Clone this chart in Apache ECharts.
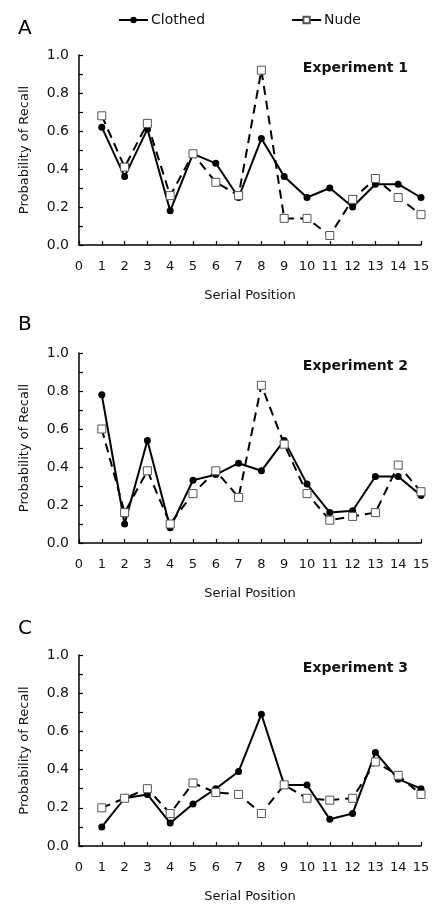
<!DOCTYPE html>
<html>
<head>
<meta charset="utf-8">
<script src="https://cdn.jsdelivr.net/npm/echarts@6/dist/echarts.min.js"></script>
<style>
	html, body { margin: 0; padding: 0; background: #fff; }
	#chart { width: 434px; height: 904px; }
</style>
</head>
<body>
<div id="chart"></div>
<script>
// serial positions (x values)
var positions = [1, 2, 3, 4, 5, 6, 7, 8, 9, 10, 11, 12, 13, 14, 15];

// Experiment 1
var clothedA = [0.62, 0.36, 0.61, 0.18, 0.48, 0.43, 0.25, 0.56, 0.36, 0.25, 0.30, 0.20, 0.32, 0.32, 0.25];
var nudeA    = [0.68, 0.41, 0.64, 0.26, 0.48, 0.33, 0.26, 0.92, 0.14, 0.14, 0.05, 0.24, 0.35, 0.25, 0.16];
// Experiment 2
var clothedB = [0.78, 0.10, 0.54, 0.08, 0.33, 0.36, 0.42, 0.38, 0.54, 0.31, 0.16, 0.17, 0.35, 0.35, 0.25];
var nudeB    = [0.60, 0.16, 0.38, 0.10, 0.26, 0.38, 0.24, 0.83, 0.52, 0.26, 0.12, 0.14, 0.16, 0.41, 0.27];
// Experiment 3
var clothedC = [0.10, 0.25, 0.27, 0.12, 0.22, 0.30, 0.39, 0.69, 0.32, 0.32, 0.14, 0.17, 0.49, 0.35, 0.30];
var nudeC    = [0.20, 0.25, 0.30, 0.17, 0.33, 0.28, 0.27, 0.17, 0.32, 0.25, 0.24, 0.25, 0.44, 0.37, 0.27];

var panelLetters = ["A", "B", "C"];
var panelTitles = ["Experiment 1", "Experiment 2", "Experiment 3"];
var clothedSets = [clothedA, clothedB, clothedC];
var nudeSets = [nudeA, nudeB, nudeC];

var font = "DejaVu Sans";
var grids = [
	{left: 79, right: 13, top: 55, height: 190},
	{left: 79, right: 13, top: 353, height: 190},
	{left: 79, right: 13, top: 655, height: 192}
];
var letterTops = [14, 310, 614];

function pairs(values){
	return positions.map(function(p, i){ return [p, values[i]]; });
}

var xAxes = [], yAxes = [], series = [], titles = [];
grids.forEach(function(g, i){
	xAxes.push({
		gridIndex: i, type: "value", min: 0, max: 15, interval: 1,
		name: "Serial Position", nameLocation: "middle", nameGap: 44,
		nameTextStyle: {fontFamily: font, fontSize: 13, color: "#111"},
		axisLine: {lineStyle: {color: "#000", width: 1.5}},
		axisTick: {inside: true, length: 4, lineStyle: {color: "#000", width: 1.2}},
		axisLabel: {fontFamily: font, fontSize: 13, color: "#111", margin: 15},
		splitLine: {show: false}
	});
	yAxes.push({
		gridIndex: i, type: "value", min: 0, max: 1, interval: 0.2,
		name: "Probability of Recall", nameLocation: "middle", nameGap: 48,
		nameTextStyle: {fontFamily: font, fontSize: 13, color: "#111"},
		axisLine: {show: true, lineStyle: {color: "#000", width: 1.5}},
		axisTick: {show: true, inside: true, length: 4, lineStyle: {color: "#000", width: 1.2}},
		minorTick: {show: true, splitNumber: 2, length: 4, lineStyle: {color: "#000", width: 1.2}},
		axisLabel: {fontFamily: font, fontSize: 14, color: "#111", margin: 10,
			formatter: function(v){ return v.toFixed(1); }},
		splitLine: {show: false}
	});
	series.push({
		name: "Clothed", type: "line", xAxisIndex: i, yAxisIndex: i,
		data: pairs(clothedSets[i]),
		symbol: "circle", symbolSize: 7,
		itemStyle: {color: "#000"},
		lineStyle: {color: "#000", width: 2},
		animation: false
	});
	series.push({
		name: "Nude", type: "line", xAxisIndex: i, yAxisIndex: i,
		data: pairs(nudeSets[i]),
		symbol: "rect", symbolSize: 8,
		itemStyle: {color: "#fff", borderColor: "#555", borderWidth: 1},
		lineStyle: {color: "#000", width: 2, type: [9, 6]},
		z: 3,
		animation: false
	});
	titles.push({
		text: panelLetters[i], left: 13, top: letterTops[i],
		textStyle: {fontFamily: font, fontSize: 20, fontWeight: "normal", color: "#000"}
	});
	titles.push({
		text: panelTitles[i], right: 21, top: g.top + 1,
		textStyle: {fontFamily: font, fontSize: 14, fontWeight: "bold", color: "#111"}
	});
});

var chart = echarts.init(document.getElementById("chart"));
chart.setOption({
	backgroundColor: "#fff",
	animation: false,
	title: titles,
	legend: {
		left: 118, top: 13, padding: 0,
		itemWidth: 29, itemHeight: 8, itemGap: 86,
		textStyle: {fontFamily: font, fontSize: 14, color: "#111", padding: [0, 0, 0, -2]},
		data: [
			{name: "Clothed"},
			{name: "Nude", lineStyle: {type: "solid"}}
		]
	},
	grid: grids,
	xAxis: xAxes,
	yAxis: yAxes,
	series: series
});
</script>
</body>
</html>
